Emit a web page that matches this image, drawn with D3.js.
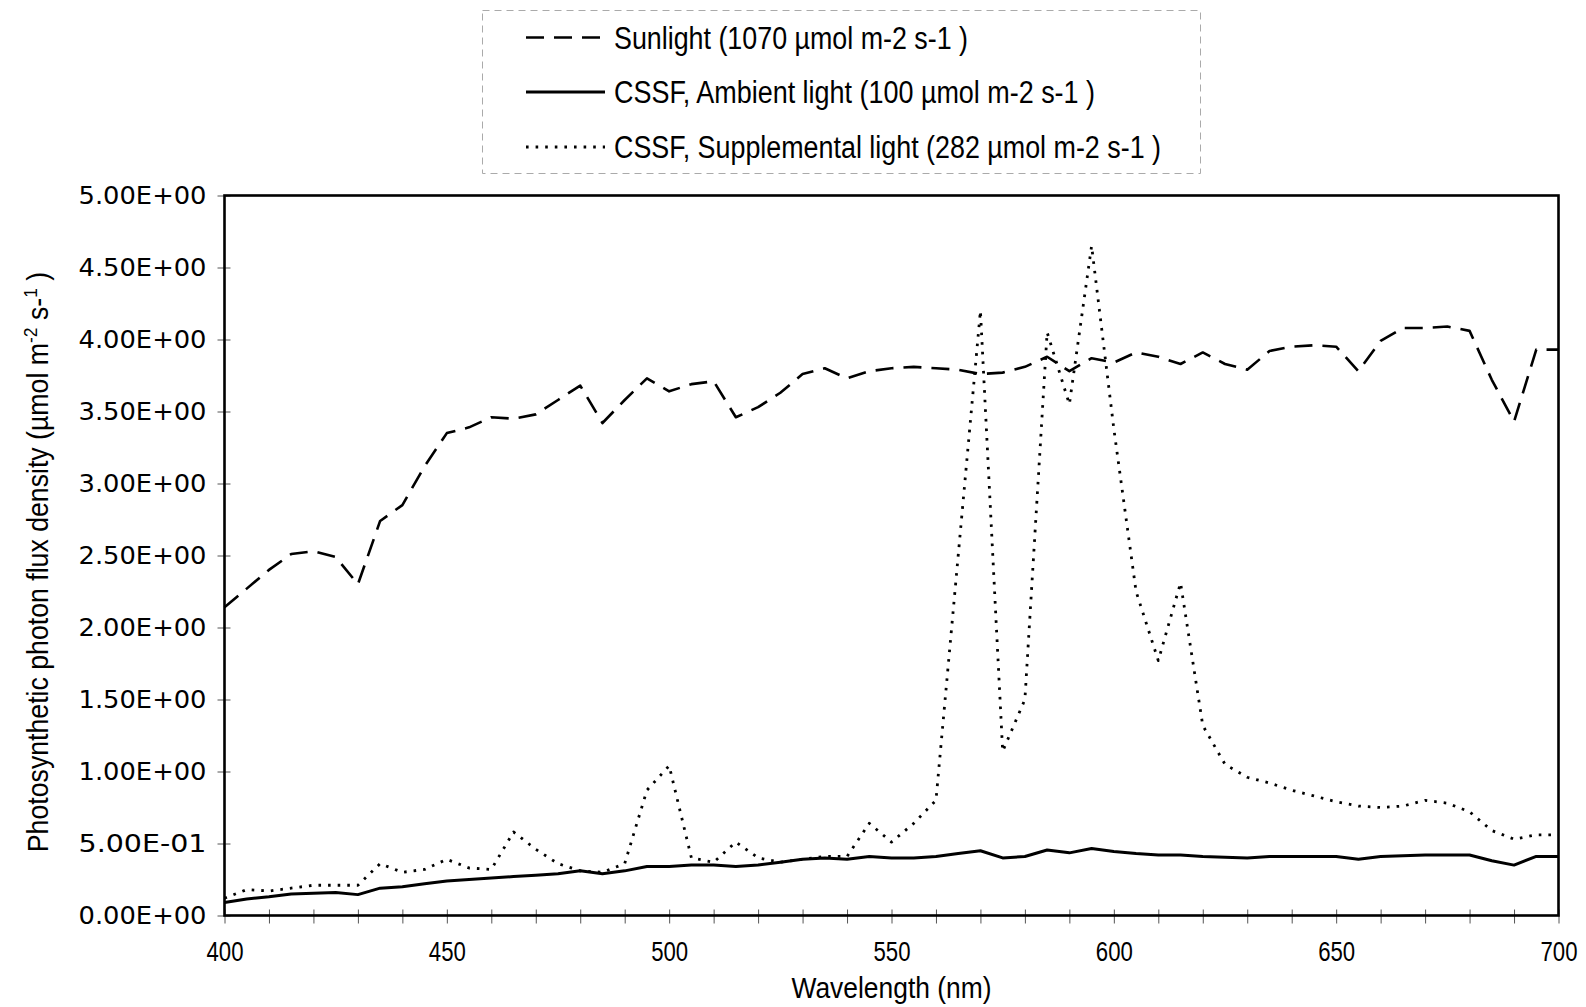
<!DOCTYPE html>
<html><head><meta charset="utf-8">
<script src="https://cdn.jsdelivr.net/npm/d3@7"></script>
<style>body{margin:0;background:#fff}svg{display:block}</style>
</head><body>
<svg id="c" width="1586" height="1007"></svg>
<script>
const wavelengths = [400,405,410,415,420,425,430,435,440,445,450,455,460,465,470,475,480,485,490,495,500,505,510,515,520,525,530,535,540,545,550,555,560,565,570,575,580,585,590,595,600,605,610,615,620,625,630,635,640,645,650,655,660,665,670,675,680,685,690,695,700];
const sunlight = [2.14,2.27,2.40,2.51,2.53,2.49,2.30,2.74,2.85,3.12,3.35,3.39,3.46,3.45,3.48,3.58,3.68,3.42,3.58,3.73,3.64,3.69,3.71,3.46,3.53,3.63,3.76,3.80,3.73,3.78,3.80,3.81,3.80,3.79,3.76,3.77,3.81,3.88,3.78,3.87,3.84,3.91,3.88,3.83,3.91,3.83,3.79,3.92,3.95,3.96,3.95,3.78,3.99,4.08,4.08,4.09,4.06,3.72,3.43,3.93,3.93];
const ambient = [0.09,0.115,0.13,0.15,0.155,0.16,0.145,0.19,0.20,0.22,0.24,0.25,0.26,0.27,0.28,0.29,0.31,0.29,0.31,0.34,0.34,0.35,0.35,0.34,0.35,0.37,0.39,0.40,0.39,0.41,0.40,0.40,0.41,0.43,0.45,0.40,0.41,0.455,0.435,0.465,0.445,0.43,0.42,0.42,0.41,0.405,0.40,0.41,0.41,0.41,0.41,0.39,0.41,0.415,0.42,0.42,0.42,0.38,0.35,0.41,0.41];
const supplemental = [0.12,0.18,0.17,0.19,0.21,0.21,0.21,0.36,0.30,0.32,0.39,0.33,0.32,0.58,0.46,0.36,0.31,0.30,0.36,0.87,1.04,0.40,0.37,0.51,0.40,0.37,0.39,0.41,0.41,0.64,0.51,0.64,0.80,2.50,4.20,1.14,1.50,4.05,3.55,4.65,3.38,2.25,1.77,2.31,1.32,1.05,0.96,0.92,0.87,0.83,0.79,0.76,0.75,0.76,0.80,0.78,0.72,0.59,0.53,0.56,0.56];
const xTickLabelValues = [400,450,500,550,600,650,700];
const xMinorTicks = [400,410,420,430,440,450,460,470,480,490,500,510,520,530,540,550,560,570,580,590,600,610,620,630,640,650,660,670,680,690,700];
const yTickValues = [0,0.5,1,1.5,2,2.5,3,3.5,4,4.5,5];
const yTickLabels = ["0.00E+00","5.00E-01","1.00E+00","1.50E+00","2.00E+00","2.50E+00","3.00E+00","3.50E+00","4.00E+00","4.50E+00","5.00E+00"];
const legendLabels = ["Sunlight (1070 µmol m-2 s-1 )","CSSF, Ambient light (100 µmol m-2 s-1 )","CSSF, Supplemental light (282 µmol m-2 s-1 )"];
const xTitle = "Wavelength (nm)";

const narrow = "'Liberation Sans Narrow','Arial Narrow','Liberation Sans',Arial,sans-serif";
const svg = d3.select("#c");
const L = 224.5, R = 1558.5, T = 195.5, B = 915.5;
const x = d3.scaleLinear().domain([400,700]).range([L,R]);
const y = d3.scaleLinear().domain([0,5]).range([B,T]);

const styles = [
  {data: sunlight, dash: "18,10", w: 2.6},
  {data: ambient, dash: null, w: 3},
  {data: supplemental, dash: "2.6,7", w: 2.8}
];

// x ticks
const gx = svg.append("g").attr("transform",`translate(0,${B})`)
  .call(d3.axisBottom(x).tickValues(xMinorTicks).tickSize(8).tickFormat(""));
gx.select(".domain").remove();
gx.selectAll(".tick line").attr("y1",-6).attr("stroke","#555").attr("stroke-width",1);
const gxl = svg.append("g").attr("transform",`translate(0,${B})`)
  .call(d3.axisBottom(x).tickValues(xTickLabelValues).tickSize(0).tickPadding(26).tickFormat(d3.format("d")));
gxl.select(".domain").remove();
gxl.selectAll("text").attr("font-family",narrow).attr("font-size",27).attr("fill","#000")
  .attr("textLength",37).attr("lengthAdjust","spacingAndGlyphs");

// y ticks
const gy = svg.append("g").attr("transform",`translate(${L},0)`)
  .call(d3.axisLeft(y).tickValues(yTickValues).tickSize(7).tickPadding(11).tickFormat((d,i)=>yTickLabels[i]));
gy.select(".domain").remove();
gy.selectAll(".tick line").attr("x1",6).attr("stroke","#555").attr("stroke-width",1);
gy.selectAll("text").attr("font-family","'DejaVu Sans',sans-serif").attr("font-size",24).attr("fill","#000")
  .attr("textLength",128).attr("lengthAdjust","spacingAndGlyphs");

// lines
const line = d3.line().x((d,i)=>x(wavelengths[i])).y(d=>y(d));
styles.forEach(s=>{
  svg.append("path").attr("d",line(s.data)).attr("fill","none").attr("stroke","#000")
    .attr("stroke-width",s.w).attr("stroke-dasharray",s.dash).attr("stroke-linejoin","round");
});

// frame
svg.append("rect").attr("x",L).attr("y",T).attr("width",R-L).attr("height",B-T)
  .attr("fill","none").attr("stroke","#000").attr("stroke-width",2.6);

// x title
svg.append("text").attr("x",(L+R)/2).attr("y",998).attr("text-anchor","middle")
  .attr("font-family",narrow).attr("font-size",30).attr("textLength",200).attr("lengthAdjust","spacingAndGlyphs").text(xTitle);

// y title (compressed along its length)
const yt = svg.append("text").attr("transform","translate(48,562) rotate(-90) scale(0.92,1)").attr("text-anchor","middle")
  .attr("font-family",narrow).attr("font-size",29);
yt.append("tspan").text("Photosynthetic photon flux density (µmol m");
yt.append("tspan").attr("dy",-11).attr("font-size",19).text("-2");
yt.append("tspan").attr("dy",11).text(" s-");
yt.append("tspan").attr("dy",-11).attr("font-size",19).text("1");
yt.append("tspan").attr("dy",11).text(" )");

// legend
svg.append("rect").attr("x",482.5).attr("y",10.5).attr("width",718).attr("height",163)
  .attr("fill","none").attr("stroke","#aaa").attr("stroke-width",1).attr("stroke-dasharray","7,5");
const legY = [37.5, 92, 147];
const legW = [354, 481, 547];
legendLabels.forEach((t,i)=>{
  svg.append("line").attr("x1",526).attr("x2",605).attr("y1",legY[i]).attr("y2",legY[i])
    .attr("stroke","#000").attr("stroke-width",styles[i].w).attr("stroke-dasharray",styles[i].dash);
  svg.append("text").attr("x",614).attr("y",legY[i]+11).attr("font-family",narrow).attr("font-size",31)
    .attr("textLength",legW[i]).attr("lengthAdjust","spacingAndGlyphs").text(t);
});
</script>
</body></html>
